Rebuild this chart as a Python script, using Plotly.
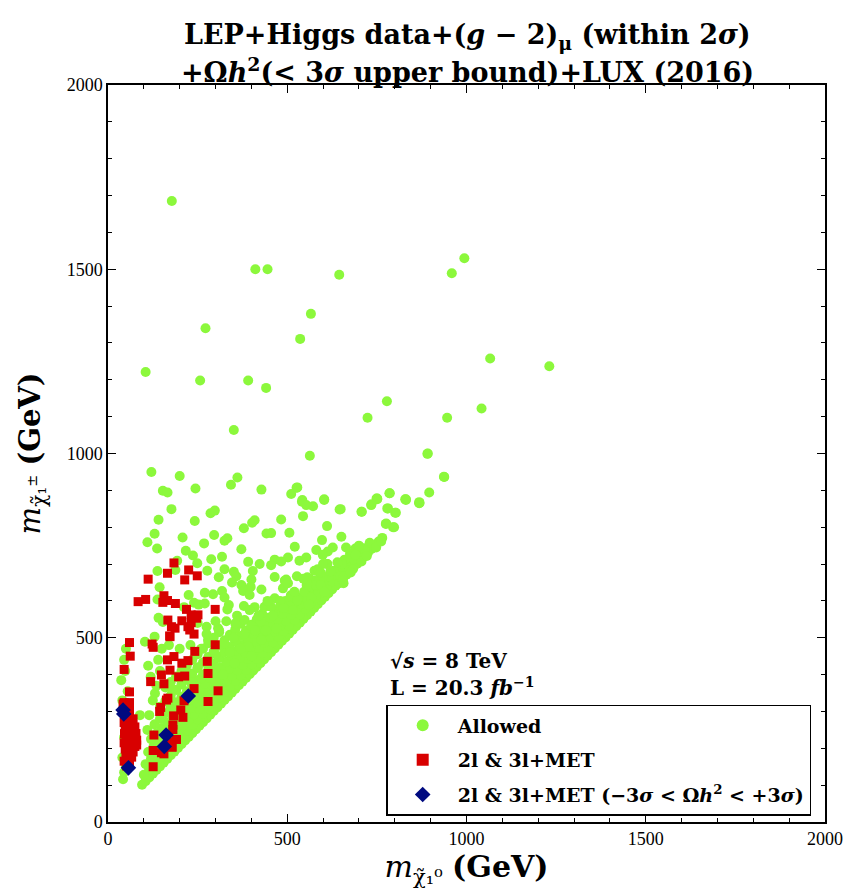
import plotly.graph_objects as go

# ---- Allowed points (m_chi0, m_chipm) in GeV ----
allowed_scatter = [
    (178,1685),(105,1221),(411,1500),(445,1500),(645,1485),(959,1489),(994,1530),(272,1340),
    (566,1379),(536,1311),(1066,1258),(1231,1237),(257,1198),(391,1198),(441,1178),(778,1142),
    (724,1097),(946,1097),(1042,1122),(351,1064),(563,994),(891,999),(121,950),(200,939),
    (361,935),(938,936),(153,899),(166,894),(244,905),(343,915),(428,902),(526,907),(511,890),
    (786,892),(896,894),(542,874),(603,876),(749,878),(831,876),(868,868),
    (177,849),(286,838),(298,845),(141,820),(242,817),(130,782),(110,759),(137,742),(208,772),
    (268,756),(296,779),(325,763),(333,770),(217,736),(237,723),(249,702),(193,709),(288,713),
    (318,720),(372,740),(379,797),(402,812),(409,819),(442,783),(391,706),(423,700),(404,681),
    (325,686),(277,682),(188,684),(138,681),(309,664),(351,679),(358,667),(400,658),(346,650),
    (372,643),(398,638),(144,637),(270,622),(293,618),(318,627),(325,609),(377,627),(395,616),
    (428,631),(225,616),(240,595),(253,590),(270,593),(212,583),(337,589),(333,577),(379,586),
    (409,583),(437,584),(141,554),(153,543),(355,539),(381,548),(400,532),(426,544),(275,530),
    (307,526),(154,607),(138,604),
    (528,908),(541,869),(553,860),(572,857),(603,874),(646,848),(707,842),(734,860),(751,876),
    (829,876),(869,866),(781,851),(801,839),(776,810),(795,800),(483,821),(544,830),(611,803),
    (506,785),(455,784),(651,774),(597,765),(521,747),(581,738),(613,734),(627,745),(664,745),
    (716,738),(748,745),(762,761),(502,718),(534,709),(553,718),(465,712),(483,707),(455,697),
    (599,725),(611,700),(652,700),(674,684),(683,686),(707,707),(722,722),(576,682),(585,686),
    (599,666),(562,661),(527,667),(497,658),(465,665),(488,634),(554,643),(579,643),(594,643),
    (648,666),(657,648),(465,607),(530,602),(507,586),(516,575),(581,616),(604,625),(455,584),
    (493,655),(556,664),(593,677),(612,700),(653,700),(658,667),(677,677),(502,648),(556,646),
    (645,648),(655,655),(567,609),(528,602),
    (831,874),(868,865),(785,892),(751,878),(735,862),(708,842),(779,851),(803,839),(775,809),
    (798,800),(649,849),(892,1000),(937,937),
    (42,116),(45,135),(50,150),(40,175),(55,200),(45,230),(60,270),(50,300),(40,330),(55,355),
    (37,385),(48,410),(45,440),(50,470),(89,290),(112,424),(119,394),(130,503),(103,489),(131,349),
    (279,494),(325,485),(391,476),(428,494),(353,431),(300,455),(340,460),(260,470),(230,480),
    (200,470),(215,410),(250,420),(230,380),(200,390),(180,360),(260,390),(290,410),(150,470),
    (170,480),(140,440),(145,410),(300,380),(320,400),(400,450),(370,470),(350,500),(380,510),
    (410,520),(440,520),(470,525),(310,520),(275,510),(110,250),(115,290),(125,330),(135,370),
    (460,560),(480,600),(520,625),(545,660),(620,680),(640,705),(690,725),(700,750),(560,590),
    (420,560),(395,575),(360,560),(300,545),(250,540),(330,545),(445,600),(490,580),(600,700),
]

allowed_band = [
    # lower edge row
    (95,101),(105,111),(115,121),(125,131),(135,141),(145,151),(155,161),(165,171),(175,181),
    (185,191),(195,201),(205,211),(215,221),(225,231),(235,241),(245,251),(255,261),(265,271),
    (275,281),(285,291),(295,301),(305,311),(315,321),(325,331),(335,341),(345,351),(355,361),
    (365,371),(375,381),(385,391),(395,401),(405,411),(415,421),(425,431),(435,441),(445,451),
    (455,461),(465,471),(475,481),(485,491),(495,501),(505,511),(515,521),(525,531),(535,541),
    (545,551),(555,561),(565,571),(575,581),(585,591),(595,601),(605,611),(615,621),(625,631),
    (635,641),(645,651),(655,661),(665,671),(675,681),(685,691),(695,701),(705,711),(715,721),
    (725,731),(735,741),(745,751),(755,761),(765,771),
    (100,128),(115,143),(130,158),(145,173),(160,188),(175,203),(190,218),(205,233),(220,248),
    (235,263),(250,278),(265,293),(280,308),(295,323),(310,338),(325,353),(340,368),(355,383),
    (370,398),(385,413),(400,428),(415,443),(430,458),(445,473),(460,488),(475,503),(490,518),
    (505,533),(520,548),(535,563),(550,578),(565,593),(580,608),(595,623),(610,638),(625,653),
    (640,668),(655,683),(670,698),(685,713),(700,728),(715,743),(730,758),
    (105,157),(120,172),(135,187),(150,202),(165,217),(180,232),(195,247),(210,262),(225,277),
    (240,292),(255,307),(270,322),(285,337),(300,352),(315,367),(330,382),(345,397),(360,412),
    (375,427),(390,442),(405,457),(420,472),(435,487),(450,502),(465,517),(480,532),(495,547),
    (510,562),(525,577),(540,592),(555,607),(570,622),(585,637),(600,652),(615,667),(630,682),
    (645,697),(660,712),(675,727),(690,742),
    (112,190),(127,205),(142,220),(157,235),(172,250),(187,265),(202,280),(217,295),(232,310),
    (247,325),(262,340),(277,355),(292,370),(307,385),(322,400),(337,415),(352,430),(367,445),
    (382,460),(397,475),(412,490),(427,505),(442,520),(457,535),(472,550),(487,565),(502,580),
    (517,595),(532,610),(547,625),(562,640),(577,655),(592,670),
    (120,225),(135,240),(150,255),(165,270),(180,285),(195,300),(210,315),(225,330),(240,345),
    (255,360),(270,375),(285,390),(300,405),(315,420),(330,435),(345,450),(360,465),(375,480),
    (390,495),(405,510),(420,525),(435,540),(450,555),(465,570),(480,585),(495,600),(510,615),
    (130,265),(145,280),(160,295),(175,310),(190,325),(205,340),(220,355),(235,370),(250,385),
    (265,400),(280,415),(295,430),(310,445),(325,460),(340,475),(355,490),(370,505),(385,520),
    (400,535),(415,550),(430,565),
    (145,313),(160,328),(175,343),(190,358),(205,373),(220,388),(235,403),(250,418),(265,433),
    (280,448),(295,463),(310,478),(325,493),(340,508),(355,523),(370,538),
    (160,365),(175,380),(190,395),(205,410),(220,425),(235,440),(250,455),(265,470),(280,485),
    (295,500),(310,515),
]

# ---- 2l & 3l + MET excluded points ----
excluded = [
    (184,703),(166,675),(225,684),(214,657),(249,668),(112,659),(84,598),(105,604),(156,614),
    (153,596),(166,601),(188,593),(219,577),(299,577),(232,562),(251,562),(247,553),(167,548),
    (206,546),(232,541),(177,530),(223,530),(187,526),(172,505),(240,510),(228,521),(173,503),
    (60,487),(123,483),(126,474),(299,481),(62,450),(242,463),(166,440),(184,449),(206,431),
    (223,438),(277,436),(45,414),(173,412),(149,399),(197,394),(214,396),(279,403),(119,381),
    (156,375),(60,353),(240,362),(307,356),(163,331),(167,336),(212,329),(279,327),(45,324),
    (60,324),(147,311),(144,300),(203,304),(183,288),(209,284),(181,263),(181,251),(128,236),
    (191,224),(172,214),(179,203),(126,194),(149,188),(156,185),(126,150),(168,218),(178,204),
    (80,209),
    (42,320),(58,322),(45,305),(60,300),(50,285),(70,280),(45,270),(62,265),(75,258),(48,250),
    (65,245),(78,240),(50,232),(66,228),(80,222),(45,215),(60,210),(75,205),(48,198),(63,192),
    (50,180),(66,176),(45,165),(60,160),(52,152),(70,190),(54,259),(73,232),(46,240),
]

# ---- excluded with relic density within 3 sigma ----
excluded_relic = [(42,304),(44,293),(224,342),(162,236),(157,205),(57,147)]

allowed = allowed_band + allowed_scatter
ax, ay = [p[0] for p in allowed], [p[1] for p in allowed]
ex, ey = [p[0] for p in excluded], [p[1] for p in excluded]
bx, by = [p[0] for p in excluded_relic], [p[1] for p in excluded_relic]

SERIF = "DejaVu Serif"

fig = go.Figure()
fig.add_trace(go.Scatter(x=ax, y=ay, mode="markers", name="<b>Allowed</b>", legendgroup="a",
                         marker=dict(symbol="circle", size=10, color="#8cf83c", line=dict(width=0))))
fig.add_trace(go.Scatter(x=ex, y=ey, mode="markers", name="<b>2l &amp; 3l+MET</b>", legendgroup="b",
                         marker=dict(symbol="square", size=9, color="#d80000", line=dict(width=0))))
fig.add_trace(go.Scatter(x=bx, y=by, mode="markers", legendgroup="c",
                         name="<b>2l &amp; 3l+MET (−3<i>σ</i> &lt; Ω<i>h</i><sup>2</sup> &lt; +3<i>σ</i>)</b>",
                         marker=dict(symbol="diamond", size=12, color="#000a80", line=dict(width=0))))

axis_common = dict(
    range=[0, 2000], dtick=500, tick0=0, ticks="inside", ticklen=8, tickwidth=1,
    tickcolor="black", showline=True, linecolor="black", linewidth=1.5, mirror="allticks",
    showgrid=False, zeroline=False, ticklabeloverflow="allow", automargin=False,
    minor=dict(ticks="inside", dtick=100, ticklen=4, tickcolor="black", tickwidth=1),
    tickfont=dict(family="Liberation Serif", size=18, color="black"),
)

fig.update_xaxes(**axis_common,
                 title=dict(text="<i>m</i><sub>χ̃₁⁰</sub> <b>(GeV)</b>",
                            font=dict(family=SERIF, size=30, color="black"), standoff=4))
fig.update_yaxes(**axis_common,
                 title=dict(text="<i>m</i><sub>χ̃₁<sup>±</sup></sub> <b>(GeV)</b>",
                            font=dict(family=SERIF, size=29, color="black"), standoff=18))

fig.update_layout(
    width=845, height=889,
    margin=dict(l=108, r=20, t=85, b=67, autoexpand=False),
    plot_bgcolor="white", paper_bgcolor="white",
    legend=dict(x=0.388, y=0.159, xanchor="left", yanchor="top",
                bordercolor="black", borderwidth=1.5, bgcolor="white",
                font=dict(family=SERIF, size=19, color="black"),
                itemsizing="constant", itemwidth=60, tracegroupgap=7),
    showlegend=True,
    annotations=[
        dict(text="<b>LEP+Higgs data+(<i>g</i> − 2)<sub>μ</sub> (within 2<i>σ</i>)</b>",
             xref="paper", yref="paper", x=0.502, y=1.066, xanchor="center", yanchor="middle",
             showarrow=False, font=dict(family=SERIF, size=27, color="black")),
        dict(text="<b>+Ω<i>h</i><sup>2</sup>(&lt; 3<i>σ</i> upper bound)+LUX (2016)</b>",
             xref="paper", yref="paper", x=0.502, y=1.020, xanchor="center", yanchor="middle",
             showarrow=False, font=dict(family=SERIF, size=27, color="black")),
        dict(text="<b>√<i>s</i> = 8 TeV</b>", xref="x", yref="y", x=781, y=437,
             xanchor="left", yanchor="middle", showarrow=False,
             font=dict(family=SERIF, size=20, color="black")),
        dict(text="<b>L = 20.3 <i>fb</i><sup>−1</sup></b>", xref="x", yref="y", x=781, y=366,
             xanchor="left", yanchor="middle", showarrow=False,
             font=dict(family=SERIF, size=20, color="black")),
    ],
)

fig.write_html("out.html", config={"displayModeBar": False},
               post_script="document.body.style.margin='0';document.body.style.overflow='hidden';")
